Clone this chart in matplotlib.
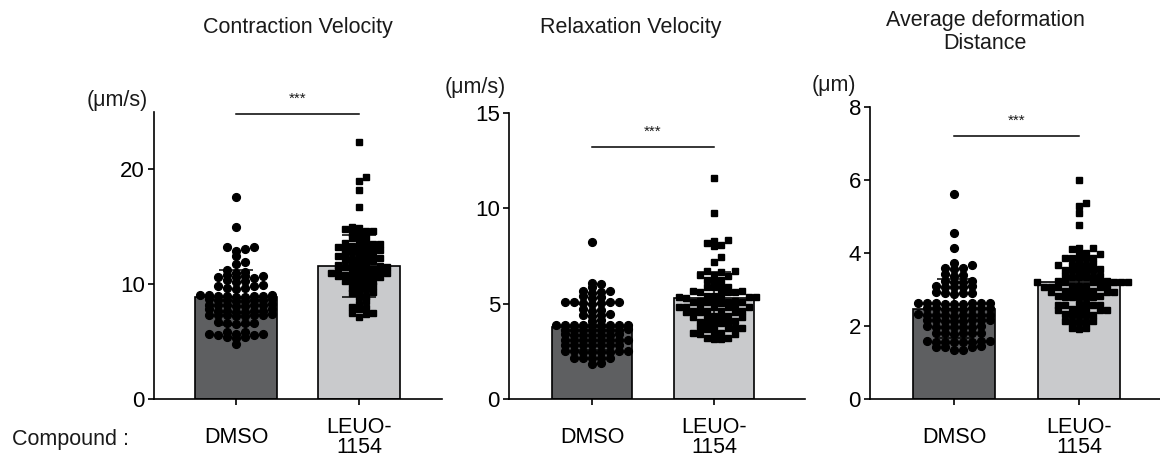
import numpy as np
import matplotlib
matplotlib.use('Agg')
import matplotlib.pyplot as plt

plt.rcParams['font.family'] = ['Liberation Sans', 'DejaVu Sans']
plt.rcParams['text.color'] = '#1a1a1a'

groups = ['DMSO', 'LEUO-\n1154']

# Contraction velocity (um/s)
cv_dmso = [17.6, 15.0, 13.2, 13.1, 13.2, 12.9, 12.5, 11.9, 11.8, 11.1, 11.0, 11.2,
           10.7, 10.6, 10.8, 10.5, 10.6, 10.7, 10.3, 10.2, 10.4,
           9.8, 9.7, 9.9, 9.6, 9.8, 9.7, 9.0, 9.1, 8.9, 9.0, 9.1, 8.9, 9.0, 9.0, 9.1,
           8.6, 8.5, 8.7, 8.6, 8.6, 8.5, 8.7, 8.6, 8.2, 8.1, 8.2, 8.3, 8.2, 8.1, 8.2, 8.2,
           7.7, 7.8, 7.6, 7.7, 7.7, 7.8, 7.6, 7.7, 7.3, 7.2, 7.3, 7.4, 7.3, 7.2, 7.3, 7.3,
           6.6, 6.5, 6.6, 6.7, 6.6, 5.7, 5.8, 5.6, 5.7, 5.7, 5.8, 5.6, 5.4, 5.3, 5.4, 4.8]
cv_leuo = [22.4, 19.3, 19.0, 18.2, 16.7, 15.0, 14.9, 14.8, 14.6, 14.5, 14.4, 14.6,
           14.1, 14.0, 13.9, 13.6, 13.5, 13.4, 13.6, 13.3, 13.5,
           13.1, 13.0, 12.9, 13.1, 13.0, 12.8, 13.2, 12.6, 12.5, 12.4, 12.6, 12.3, 12.5,
           12.1, 12.0, 11.9, 12.1, 12.2, 11.7, 11.6, 11.5, 11.7, 11.4, 11.6, 11.5,
           11.2, 11.1, 11.0, 11.2, 11.0, 11.1, 11.3, 10.9, 10.8, 10.7, 10.6, 10.8, 10.7, 10.6,
           10.3, 10.2, 10.4, 10.3, 10.1, 9.9, 9.8, 9.7, 9.6, 9.4, 9.3, 9.2, 9.0, 8.9,
           8.5, 8.3, 8.0, 7.9, 7.8, 7.5, 7.4, 7.5, 7.1]
cv_mean = [8.85, 11.57]
cv_sd = [2.43, 2.70]

# Relaxation velocity (um/s)
rv_dmso = [8.25, 6.1, 6.05, 5.85, 5.65, 5.6, 5.65, 5.55, 5.4, 5.35, 5.3,
           5.1, 5.1, 5.05, 5.1, 5.0, 5.1, 5.05, 4.7, 4.65, 4.6, 4.45, 4.4, 4.35, 4.4, 4.15, 4.1,
           3.9, 3.9, 3.88, 3.9, 3.88, 3.9, 3.88, 3.9, 3.88,
           3.64, 3.63, 3.64, 3.63, 3.65, 3.64, 3.63, 3.64, 3.38, 3.39, 3.38, 3.37, 3.38, 3.39, 3.38,
           3.12, 3.11, 3.12, 3.12, 3.11, 3.12, 3.12, 3.11, 2.85, 2.84, 2.85, 2.84, 2.85, 2.84, 2.85,
           2.5, 2.49, 2.5, 2.49, 2.5, 2.49, 2.5, 2.49, 2.15, 2.16, 2.15, 2.14, 2.15, 1.9, 1.86]
rv_leuo = [11.6, 9.75, 8.35, 8.3, 8.2, 8.1, 8.0, 7.45, 7.2,
           6.7, 6.65, 6.7, 6.5, 6.5, 6.45, 6.25, 6.2, 6.25, 5.9, 5.85, 5.9, 5.95,
           5.65, 5.6, 5.65, 5.6, 5.6, 5.65, 5.35, 5.4, 5.35, 5.3, 5.4, 5.35, 5.35,
           5.1, 5.15, 5.1, 5.05, 5.1, 5.1, 5.15, 5.1, 4.85, 4.8, 4.85, 4.8, 4.85, 4.8, 4.85,
           4.6, 4.55, 4.6, 4.55, 4.6, 4.55, 4.6, 4.3, 4.35, 4.3, 4.35, 4.3, 4.3,
           4.05, 4.05, 4.0, 4.05, 4.1, 4.0, 3.7, 3.7, 3.65, 3.75, 3.7, 3.7,
           3.45, 3.4, 3.45, 3.45, 3.4, 3.2, 3.15, 3.2, 3.15]
rv_mean = [3.78, 5.30]
rv_sd = [1.21, 1.36]

# Average deformation distance (um)
dd_dmso = [5.63, 4.54, 4.13, 3.72, 3.66, 3.58, 3.56, 3.6, 3.4, 3.42, 3.38,
           3.22, 3.2, 3.21, 3.23, 3.08, 3.1, 3.06, 3.08, 3.09, 2.9, 2.92, 2.88, 2.9, 2.91,
           2.62, 2.63, 2.6, 2.62, 2.61, 2.63, 2.62, 2.6, 2.62,
           2.48, 2.47, 2.49, 2.48, 2.46, 2.48, 2.49, 2.47,
           2.3, 2.31, 2.29, 2.3, 2.32, 2.3, 2.28, 2.3, 2.31,
           2.16, 2.15, 2.17, 2.16, 2.15, 2.16, 2.17, 2.15, 1.98, 1.97, 1.99, 1.98, 1.96, 1.98, 1.99,
           1.8, 1.81, 1.79, 1.8, 1.82, 1.8, 1.57, 1.58, 1.56, 1.57, 1.58, 1.56, 1.57, 1.58,
           1.43, 1.44, 1.42, 1.43, 1.34, 1.35]
dd_leuo = [6.0, 5.38, 5.3, 5.09, 4.77, 4.13, 4.15, 4.1, 3.99, 4.0, 3.98,
           3.85, 3.86, 3.84, 3.85, 3.87, 3.67, 3.68, 3.66, 3.67, 3.69,
           3.53, 3.54, 3.52, 3.53, 3.55, 3.52, 3.35, 3.36, 3.34, 3.35, 3.37, 3.34,
           3.21, 3.22, 3.2, 3.21, 3.23, 3.2, 3.22, 3.21, 3.2,
           3.08, 3.09, 3.07, 3.08, 3.1, 3.07, 3.08, 3.09, 2.94, 2.95, 2.93, 2.94, 2.96, 2.93, 2.94, 2.95,
           2.8, 2.81, 2.79, 2.8, 2.82, 2.8, 2.79, 2.58, 2.59, 2.57, 2.58, 2.6, 2.57,
           2.44, 2.45, 2.43, 2.44, 2.46, 2.43, 2.3, 2.31, 2.29, 2.3, 2.32,
           2.12, 2.13, 2.11, 2.12, 2.14, 1.94, 1.93, 1.95]
dd_mean = [2.47, 3.21]
dd_sd = [0.81, 0.69]

W, H = 1160, 467
fig = plt.figure(figsize=(W / 100, H / 100), dpi=100)

bar_colors = ['#5e5f61', '#c9cacc']
markers = ['o', 's']
marker_sizes = [5.6, 5.0]
spacing = [(8.8, 4.0), (7.0, 5.4)]   # (dx, dy) in pixels for circles / squares


def swarm_offsets(vals, ppu, sx, sy):
    # prism-like row swarm: points collide only when close in both x and y (pixels)
    ys = np.asarray(vals, dtype=float) * ppu
    order = np.argsort(ys)
    xs = np.zeros(len(ys))
    placed = []
    cand = [0.0]
    for k in range(1, 160):
        cand += [k * 0.5, -k * 0.5]
    for i in order:
        for c in cand:
            if all(abs(px - c) >= sx or abs(py - ys[i]) >= sy for px, py in placed):
                xs[i] = c
                placed.append((c, ys[i]))
                break
    return xs


def panel(box, centers, ymax, yticks, data, means, sds, sig_y, unit, unit_xy):
    left, top, right, bottom = box
    ax = fig.add_axes([left / W, 1 - bottom / H, (right - left) / W, (bottom - top) / H])
    ppx = centers[1] - centers[0]
    ppu = (bottom - top) / ymax
    pos = [0, 1]
    ax.bar(pos, means, width=0.66, color=bar_colors, edgecolor='black', linewidth=1.2, zorder=1)
    ax.errorbar(pos, means, yerr=sds, fmt='none', ecolor='black', elinewidth=1.1,
                capsize=12, capthick=1.1, zorder=2)
    for i in range(2):
        off = swarm_offsets(data[i], ppu, *spacing[i]) / ppx
        ax.plot(pos[i] + off, data[i], linestyle='none', marker=markers[i],
                markersize=marker_sizes[i], color='black', zorder=3)
    ax.plot(pos, [sig_y, sig_y], color='black', linewidth=1.1)
    ax.text(0.5, sig_y + 0.03 * ymax, '***', ha='center', va='bottom', fontsize=11)
    ax.set_xlim((left - centers[0]) / ppx, (right - centers[0]) / ppx)
    ax.set_ylim(0, ymax)
    ax.set_yticks(yticks)
    ax.set_xticks(pos, groups)
    for lab in ax.get_xticklabels():
        lab.set_va('center')
        lab.set_linespacing(0.95)
    ax.spines['top'].set_visible(False)
    ax.spines['right'].set_visible(False)
    for s in ['left', 'bottom']:
        ax.spines[s].set_linewidth(1.2)
        ax.spines[s].set_clip_on(False)
    ax.tick_params(axis='y', direction='out', length=4.5, width=1.2, labelsize=16, pad=2)
    ax.tick_params(axis='x', direction='out', length=4.5, width=1.2, labelsize=15.5, pad=23)
    ax.patch.set_alpha(0)
    fig.text(unit_xy[0] / W, 1 - unit_xy[1] / H, unit, ha='center', va='center', fontsize=15.5)
    return ax


panel((154, 112, 442, 399), (236, 359), 25, [0, 10, 20], (cv_dmso, cv_leuo), cv_mean, cv_sd,
      24.8, '(μm/s)', (117, 100))
panel((509, 113, 805, 399), (592, 714), 15, [0, 5, 10, 15], (rv_dmso, rv_leuo), rv_mean, rv_sd,
      13.2, '(μm/s)', (475, 88))
panel((870, 107, 1162, 399), (954, 1079), 8, [0, 2, 4, 6, 8], (dd_dmso, dd_leuo), dd_mean, dd_sd,
      7.2, '(μm)', (834, 86))

fig.text(298 / W, 1 - 28 / H, 'Contraction Velocity', ha='center', va='center', fontsize=15.5)
fig.text(631 / W, 1 - 28 / H, 'Relaxation Velocity', ha='center', va='center', fontsize=15.5)
fig.text(985 / W, 1 - 32 / H, 'Average deformation\nDistance', ha='center', va='center',
         fontsize=15.5, linespacing=1.1)
fig.text(71 / W, 1 - 440 / H, 'Compound :', ha='center', va='center', fontsize=15.5)

fig.savefig('out.png', dpi=100)
